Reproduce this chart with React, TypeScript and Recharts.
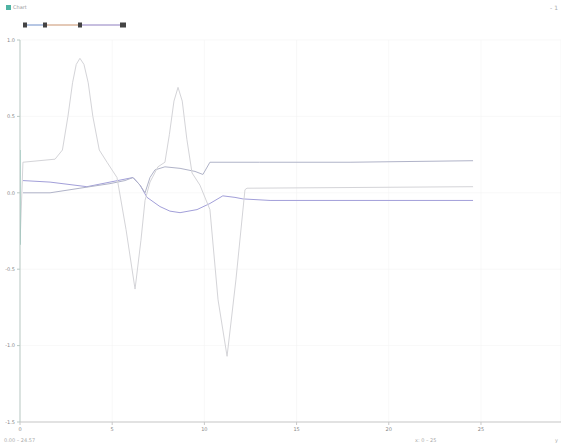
import { LineChart, Line, XAxis, YAxis, CartesianGrid } from "recharts"

// x positions and values, one pair of arrays per series
const peakX = [0, 0.16, 1.9, 2.3, 2.6, 2.85, 3.05, 3.25, 3.47, 3.7, 3.95, 4.3, 4.72, 5.26, 5.75, 6.24, 6.56, 6.78, 7.05, 7.48, 7.86, 8.1, 8.35, 8.57, 8.8, 9.05, 9.33, 9.76, 10.3, 10.74, 11.23, 11.71, 12.2, 12.31, 24.57]
const peakY = [-0.34, 0.2, 0.22, 0.28, 0.5, 0.72, 0.84, 0.88, 0.84, 0.72, 0.5, 0.28, 0.2, 0.1, -0.24, -0.63, -0.31, -0.05, 0.07, 0.17, 0.2, 0.38, 0.6, 0.69, 0.6, 0.35, 0.13, 0.05, -0.11, -0.7, -1.07, -0.57, 0.02, 0.03, 0.04]

const upperX = [0.16, 1.63, 3.25, 4.88, 5.69, 6.13, 6.51, 6.78, 7.05, 7.32, 7.86, 8.68, 9.49, 9.92, 10.3, 13.0, 17.9, 24.57]
const upperY = [0.0, 0.0, 0.03, 0.06, 0.08, 0.1, 0.05, 0.0, 0.1, 0.15, 0.17, 0.16, 0.14, 0.12, 0.2, 0.2, 0.2, 0.21]

const lowerX = [0.16, 1.63, 3.63, 4.88, 6.13, 6.51, 6.89, 7.59, 8.13, 8.68, 9.6, 10.3, 11.0, 11.66, 12.09, 13.56, 24.57]
const lowerY = [0.08, 0.07, 0.04, 0.07, 0.1, 0.05, -0.03, -0.09, -0.12, -0.13, -0.11, -0.07, -0.02, -0.03, -0.04, -0.05, -0.05]

const startX = [0, 0]
const startY = [0.28, -0.34]

const xTicks = [0, 5, 10, 15, 20, 25]
const yTicks = [1.0, 0.5, 0.0, -0.5, -1.0, -1.5]

const toPoints = (xs: number[], ys: number[]) => xs.map((x, i) => ({ x, y: ys[i] }))

const legendColors = ["#6f8fc9", "#c9936f", "#8f7fc0", "#6fb0c9"]

function TopLegend() {
  const xs = [5, 25, 60, 102]
  return (
    <svg width={140} height={12} style={{ position: "absolute", left: 20, top: 19 }}>
      {legendColors.slice(0, 3).map((c, i) => (
        <line key={i} x1={xs[i]} x2={xs[i + 1]} y1={6} y2={6} stroke={c} strokeWidth={1} />
      ))}
      {xs.map((x, i) => (
        <rect key={i} x={x - 2} y={3.5} width={i === 3 ? 6 : 4} height={5} fill="#444" />
      ))}
    </svg>
  )
}

export default function App() {
  const tickStyle = { fontSize: 5, fill: "#888", fontFamily: "DejaVu Sans" }
  return (
    <div style={{ position: "fixed", left: 0, top: 0, width: 561, height: 448, background: "#fff", fontFamily: "DejaVu Sans" }}>
      <div style={{ position: "absolute", left: 6, top: 5, width: 5, height: 5, background: "#4fb3a3" }} />
      <div style={{ position: "absolute", left: 13, top: 4, fontSize: 5, color: "#999" }}>Chart</div>
      <div style={{ position: "absolute", right: 3, top: 4, fontSize: 6, color: "#aaa" }}>- 1</div>
      <TopLegend />
      <LineChart width={561} height={448} margin={{ top: 40, right: 0, bottom: 0, left: 0 }}>
        <CartesianGrid stroke="#f4f4f4" strokeWidth={0.6} />
        <XAxis
          type="number"
          dataKey="x"
          domain={[0, 29.34]}
          ticks={xTicks}
          height={26}
          tick={tickStyle}
          tickSize={3}
          stroke="#c8c8c8"
          allowDataOverflow
        />
        <YAxis
          type="number"
          dataKey="y"
          domain={[-1.5, 1.0]}
          ticks={yTicks}
          width={20}
          tick={tickStyle}
          tickSize={3}
          tickFormatter={(v) => Number(v).toFixed(1)}
          stroke="#b9c9c4"
        />
        <Line data={toPoints(lowerX, lowerY)} dataKey="y" stroke="#a29fd9" strokeWidth={1} dot={false} isAnimationActive={false} />
        <Line data={toPoints(upperX, upperY)} dataKey="y" stroke="#b0b3c8" strokeWidth={1} dot={false} isAnimationActive={false} />
        <Line data={toPoints(peakX, peakY)} dataKey="y" stroke="#d4d4d8" strokeWidth={1} dot={false} isAnimationActive={false} />
        <Line data={toPoints(startX, startY)} dataKey="y" stroke="#5fb3a4" strokeWidth={1} dot={false} isAnimationActive={false} />
      </LineChart>
      <div style={{ position: "absolute", left: 4, top: 437, fontSize: 5, color: "#aaa" }}>0.00 – 24.57</div>
      <div style={{ position: "absolute", left: 415, top: 437, fontSize: 5, color: "#aaa" }}>x: 0 – 25</div>
      <div style={{ position: "absolute", right: 3, top: 437, fontSize: 5, color: "#aaa" }}>y</div>
    </div>
  )
}
